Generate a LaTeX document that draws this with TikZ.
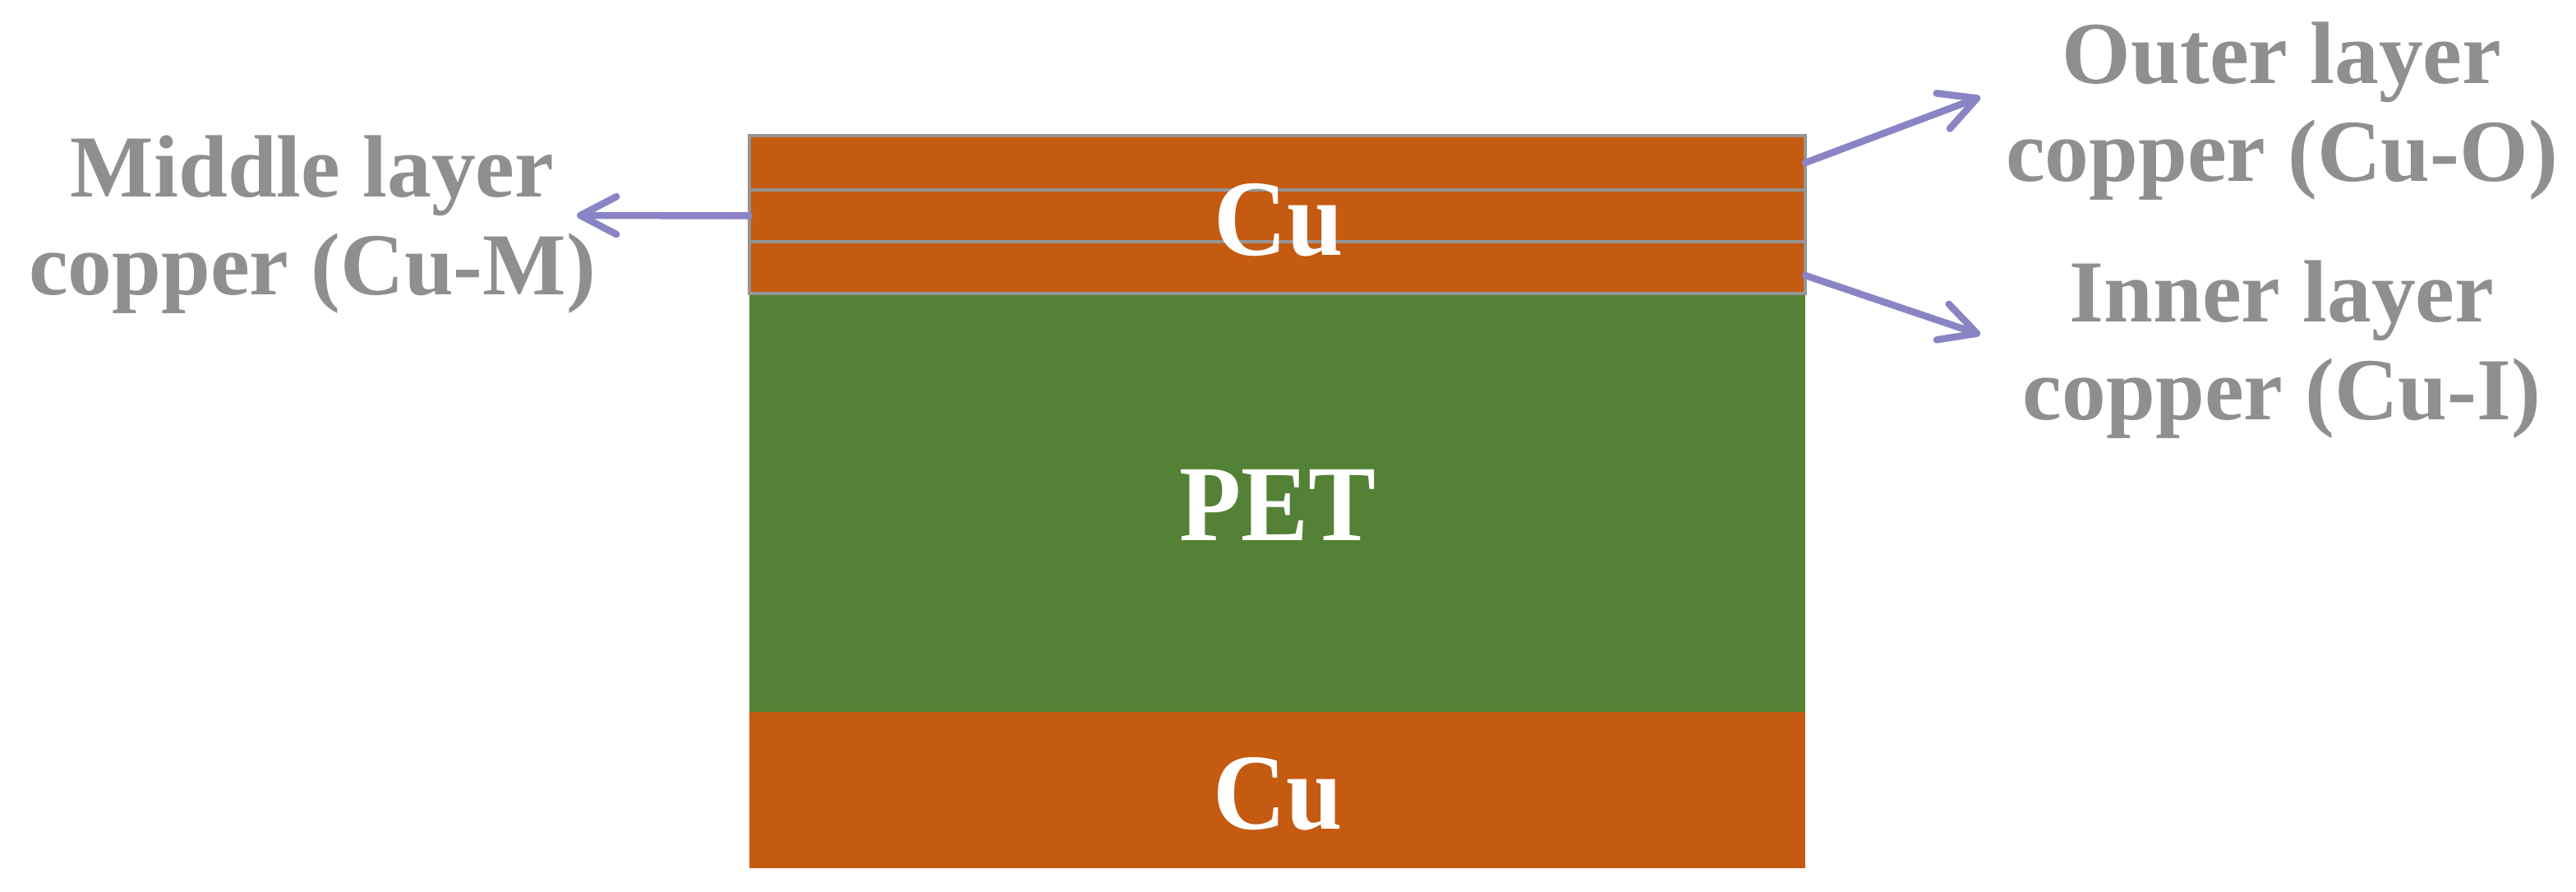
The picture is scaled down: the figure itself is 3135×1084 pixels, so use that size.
\documentclass[tikz,border=0pt]{standalone}
\usepackage{fontspec}
\usepackage{graphicx}
\setmainfont{Liberation Serif}
\usetikzlibrary{arrows.meta}
\definecolor{cuor}{HTML}{C55A11}
\definecolor{petg}{HTML}{538135}
\definecolor{txtgray}{HTML}{8F8F8F}
\definecolor{arrowc}{HTML}{8A84C5}
\definecolor{edgegray}{HTML}{959595}
\begin{document}
\begin{tikzpicture}[x=0.1mm,y=-0.1mm,
  layer/.style={anchor=north west, inner sep=0, outer sep=0, minimum width=128.5mm},
  culayer/.style={layer, fill=cuor, draw=edgegray, line width=0.45mm},
  lbl/.style={text=txtgray, align=center, anchor=north, inner sep=0,
    font=\bfseries\fontsize{30.6}{34}\selectfont},
  inlbl/.style={text=white, anchor=base, inner sep=0,
    font=\bfseries\fontsize{35}{40}\selectfont},
  pointer/.style={draw=arrowc, line width=0.85mm, line cap=round,
    -{Straight Barb[length=4.4mm,width=4.6mm,round]}}]
\useasboundingbox (0,0) rectangle (3135,1084);
% layers
\node[layer, fill=petg, minimum height=50.9mm] (pet) at (912,357) {};
\node[layer, fill=cuor, minimum height=19mm] (cubot) at (912,866) {};
\node[culayer, minimum height=6.6mm] (outer) at (912,165) {};
\node[culayer, minimum height=6.3mm] (middle) at (912,231) {};
\node[culayer, minimum height=6.3mm] (inner) at (912,294) {};
% inner labels
\node[inlbl] (cutoptxt) at (1556,310) {\scalebox{1}[1.07]{Cu}};
\node[inlbl] (pettxt) at (1555,657) {\scalebox{1}[1.07]{PET}};
\node[inlbl] (cubottxt) at (1555,1008) {\scalebox{1}[1.07]{Cu}};
% side labels
\node[lbl] (midlbl) at (380,164) {Middle layer\\copper (Cu-M)};
\node[lbl] (outlbl) at (2777,26) {Outer layer\\copper (Cu-O)};
\node[lbl] (inlbl) at (2777,316) {Inner layer\\copper (Cu-I)};
% arrow ends
\coordinate (midtip) at (702,262);
\coordinate (outtip) at (2410,118);
\coordinate (intip) at (2410,407);
\draw[pointer] (middle.west) -- (midtip);
\draw[pointer] (outer.east) -- (outtip);
\draw[pointer] ([yshift=-0.95mm]inner.east) -- (intip);
\end{tikzpicture}
\end{document}
